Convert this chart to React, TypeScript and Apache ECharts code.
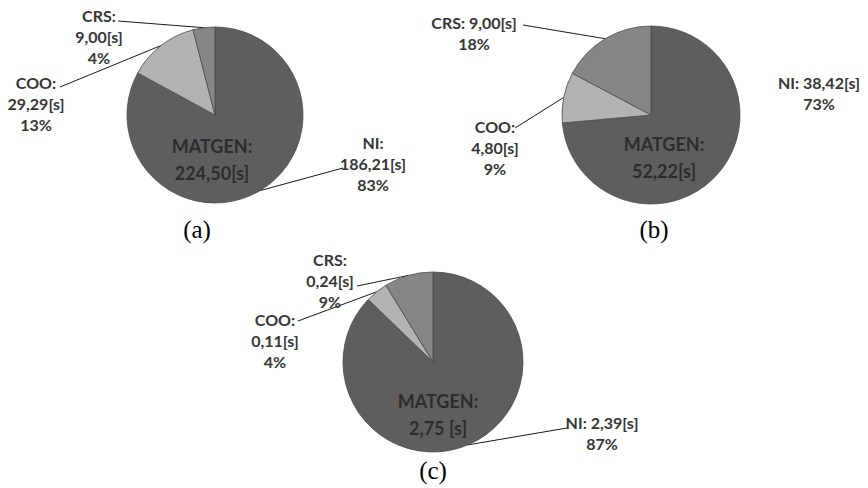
import React, { useEffect, useRef } from "react";
import * as echarts from "echarts";

const categories = ["NI", "COO", "CRS"];
const valuesA = [186.21, 29.29, 9.0];
const valuesB = [38.42, 4.8, 9.0];
const valuesC = [2.39, 0.11, 0.24];
const percentA = ["83%", "13%", "4%"];
const percentB = ["73%", "9%", "18%"];
const percentC = ["87%", "4%", "9%"];
const totals = ["224,50[s]", "52,22[s]", "2,75 [s]"];
const captions = ["(a)", "(b)", "(c)"];
const totalTitle = "MATGEN:";

// label layout: 3 = "Name:\nvalue\npct", 2 = "Name: value\npct"
const lineModeA = [3, 3, 3];
const lineModeB = [2, 3, 2];
const lineModeC = [2, 3, 3];

const sliceColors = ["#5e5e5e", "#b3b3b3", "#868686"];
const labelColor = "#363636";
const font = "Lato, 'Open Sans', sans-serif";

function fmt(v: number) {
  return v.toFixed(2).replace(".", ",") + "[s]";
}

export default function App() {
  const ref = useRef<HTMLDivElement>(null);
  useEffect(() => {
    const chart = echarts.init(ref.current!, null, { renderer: "svg" });
    const pies = [
      {
        values: valuesA, pct: percentA, mode: lineModeA,
        center: [215, 115], r: 88,
        pos: [[373, 163], [36, 103.5], [99, 36.5]],
        ends: [[343, 168], [60, 87], [118, 21]],
        total: [212, 145],
        cap: [197, 229],
      },
      {
        values: valuesB, pct: percentB, mode: lineModeB,
        center: [651, 115], r: 89,
        pos: [[819, 93], [495, 147.5], [474, 32.5]],
        ends: [null, [515, 128], [523, 25]],
        total: [664, 143],
        cap: [654, 229],
      },
      {
        values: valuesC, pct: percentC, mode: lineModeC,
        center: [433, 362], r: 90,
        pos: [[602, 432.5], [275, 340], [330, 280]],
        ends: [[567, 428], [298, 321], [357, 286]],
        total: [438, 400],
        cap: [433, 470],
      },
    ];

    const series = pies.map((p) => ({
      type: "pie",
      center: p.center,
      radius: p.r,
      startAngle: 90,
      clockwise: true,
      avoidLabelOverlap: false,
      silent: true,
      itemStyle: { borderColor: "#4a4a4a", borderWidth: 0.8 },
      label: {
        show: true,
        position: "outside",
        color: labelColor,
        fontFamily: font,
        fontWeight: "bold",
        fontSize: 16,
        lineHeight: 21,
        align: "center",
        formatter: (params: any) => {
          const i = params.dataIndex;
          const name = categories[i];
          const val = fmt(p.values[i]);
          return p.mode[i] === 3
            ? `${name}:\n${val}\n${p.pct[i]}`
            : `${name}: ${val}\n${p.pct[i]}`;
        },
      },
      labelLine: {
        show: true,
        length: 5,
        length2: 5,
        lineStyle: { color: "#1a1a1a", width: 1 },
      },
      labelLayout: (params: any) => {
        const i = params.dataIndex;
        const pos = p.pos[i];
        const out: any = {
          x: pos[0],
          y: pos[1],
          align: "center",
          verticalAlign: "middle",
        };
        const end = p.ends[i];
        const lp = params.labelLinePoints;
        if (end && lp) {
          out.labelLinePoints = [lp[0], end, end];
        }
        return out;
      },
      data: p.values.map((v, i) => ({
        name: categories[i],
        value: v,
        itemStyle: { color: sliceColors[i] },
        labelLine: p.ends[i] ? { show: true } : { show: false },
      })),
    }));

    const graphic: any[] = [];
    pies.forEach((p, si) => {
      graphic.push({
        type: "text",
        x: p.total[0],
        y: p.total[1] - 13,
        style: {
          text: totalTitle + "\n" + totals[si],
          fill: "#2c2c2c",
          font: `bold 18px ${font}`,
          lineHeight: 27,
          align: "center",
          verticalAlign: "top",
        },
        silent: true,
        z: 10,
      });
      graphic.push({
        type: "text",
        x: p.cap[0],
        y: p.cap[1],
        style: {
          text: captions[si],
          fill: "#000000",
          font: "25px 'Liberation Serif', 'DejaVu Serif', serif",
          align: "center",
          verticalAlign: "middle",
        },
        silent: true,
      });
    });

    chart.setOption({
      animation: false,
      backgroundColor: "#ffffff",
      series,
      graphic,
    });
    return () => chart.dispose();
  }, []);
  return (
    <div
      ref={ref}
      style={{ position: "fixed", left: 0, top: 0, width: 868, height: 488, background: "#fff" }}
    />
  );
}
